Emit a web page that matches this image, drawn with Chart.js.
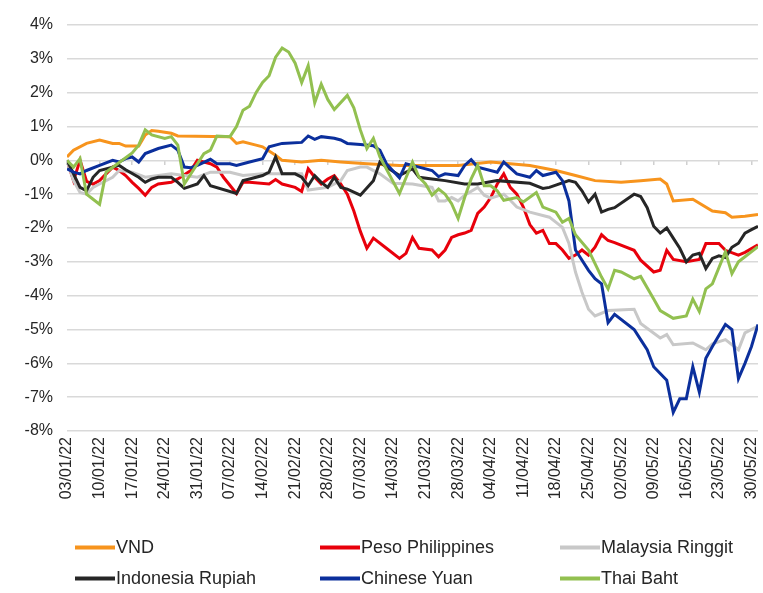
<!DOCTYPE html>
<html>
<head>
<meta charset="utf-8">
<script src="https://cdn.jsdelivr.net/npm/chart.js@4.4.1/dist/chart.umd.min.js"></script>
<style>
  html, body { margin: 0; padding: 0; background: #fff; }
  #wrap { position: relative; width: 763px; height: 593px; overflow: hidden; }
  #chart { position: absolute; left: 0; top: 0; }
  #legend { position: absolute; left: 0; top: 0; width: 763px; height: 593px;
            font-family: Arial, "Liberation Sans", sans-serif; font-size: 18px; color: #262626; }
  .item { position: absolute; display: flex; align-items: center; white-space: nowrap; transform: translateY(-50%); }
  .swatch { display: inline-block; width: 40px; height: 4px; margin-right: 1px; }
</style>
</head>
<body>
<div id="wrap">
  <canvas id="chart" width="763" height="515"></canvas>
  <div id="legend"></div>
</div>
<script>
// Biến động tỷ giá so với đầu năm 2022 (%), x = số ngày làm việc kể từ 03/01/22

const weekLabels = ["03/01/22", "10/01/22", "17/01/22", "24/01/22", "31/01/22", "07/02/22", "14/02/22",
  "21/02/22", "28/02/22", "07/03/22", "14/03/22", "21/03/22", "28/03/22", "04/04/22", "11/04/22",
  "18/04/22", "25/04/22", "02/05/22", "09/05/22", "16/05/22", "23/05/22", "30/05/22"];

const seriesNames = ["VND", "Peso Philippines", "Malaysia Ringgit", "Indonesia Rupiah", "Chinese Yuan", "Thai Baht"];

// [ngày, %]
const vnd = [[0, 0.1], [1, 0.3], [3, 0.5], [5, 0.6], [6, 0.55], [7, 0.5], [8, 0.5], [9, 0.42], [11, 0.42],
  [12, 0.75], [13, 0.88], [14, 0.86], [16, 0.8], [17, 0.72], [25, 0.7], [26, 0.5], [27, 0.55], [29, 0.45],
  [30, 0.4], [32, 0.15], [33, 0.0], [36, -0.05], [39, 0.0], [42, -0.05], [46, -0.1], [51, -0.15],
  [60, -0.15], [65, -0.05], [71, -0.15], [75, -0.3], [78, -0.45], [81, -0.6], [85, -0.65], [88, -0.6],
  [91, -0.55], [92, -0.7], [93, -1.2], [96, -1.15], [99, -1.5], [101, -1.55], [102, -1.68], [104, -1.65],
  [106, -1.6]];

const peso = [[0, 0], [1, -0.6], [2, 0], [3, -0.62], [4, -0.7], [5, -0.6], [6, -0.4], [7, -0.2], [8, -0.3],
  [9, -0.45], [10, -0.65], [11, -0.83], [12, -1.03], [13, -0.8], [14, -0.7], [16, -0.65], [17, -0.55],
  [19, -0.3], [20, 0.0], [22, -0.1], [23, -0.2], [24, -0.5], [26, -0.98], [27, -0.65], [28, -0.65],
  [31, -0.7], [32, -0.57], [33, -0.7], [35, -0.8], [36, -0.92], [37, -0.25], [38, -0.5], [39, -0.7],
  [40, -0.55], [41, -0.45], [42, -0.7], [43, -1.0], [44, -1.5], [45, -2.1], [46, -2.6], [47, -2.3],
  [49, -2.6], [51, -2.9], [52, -2.75], [53, -2.28], [54, -2.6], [56, -2.65], [57, -2.85], [58, -2.65],
  [59, -2.28], [60, -2.2], [61, -2.15], [62, -2.07], [63, -1.57], [64, -1.38], [65, -1.1], [66, -0.7],
  [67, -0.4], [68, -0.8], [69, -1.0], [70, -1.38], [71, -1.9], [72, -2.15], [73, -2.07], [74, -2.46],
  [75, -2.46], [76, -2.65], [77, -2.9], [78, -2.8], [79, -2.65], [80, -2.8], [81, -2.57], [82, -2.2],
  [83, -2.37], [84, -2.43], [87, -2.66], [88, -2.95], [90, -3.3], [91, -3.25], [92, -2.66], [93, -2.93],
  [95, -3.0], [97, -2.93], [98, -2.46], [100, -2.46], [101, -2.66], [103, -2.8], [104, -2.72], [106, -2.5]];

const ringgit = [[0, 0], [1, -0.6], [2, -0.95], [3, -1.0], [4, -0.8], [5, -0.7], [7, -0.5], [8, -0.3],
  [10, -0.35], [12, -0.5], [14, -0.45], [16, -0.4], [20, -0.5], [22, -0.35], [25, -0.35], [27, -0.45],
  [30, -0.4], [36, -0.4], [37, -0.88], [40, -0.8], [42, -0.6], [43, -0.3], [45, -0.2], [46, -0.2],
  [48, -0.4], [50, -0.68], [53, -0.7], [56, -0.8], [57, -1.2], [58, -1.2], [59, -1.1], [60, -1.2],
  [61, -1.03], [63, -0.8], [64, -1.03], [65, -1.12], [67, -1.0], [68, -1.18], [69, -1.38], [71, -1.53],
  [74, -1.68], [76, -1.98], [77, -2.46], [78, -3.3], [79, -3.9], [80, -4.4], [81, -4.6], [83, -4.44],
  [87, -4.4], [88, -4.82], [91, -5.25], [92, -5.15], [93, -5.45], [96, -5.4], [97, -5.5], [98, -5.6],
  [99, -5.42], [101, -5.3], [103, -5.6], [104, -5.1], [106, -4.9]];

const rupiah = [[0, 0], [2, -0.8], [3, -0.9], [4, -0.5], [5, -0.3], [7, -0.2], [8, -0.15], [9, -0.28],
  [11, -0.5], [12, -0.65], [13, -0.55], [14, -0.5], [16, -0.5], [17, -0.65], [18, -0.83], [20, -0.7],
  [21, -0.45], [22, -0.75], [26, -0.98], [27, -0.6], [28, -0.55], [30, -0.45], [31, -0.35], [32, 0.1],
  [33, -0.4], [35, -0.4], [36, -0.5], [37, -0.75], [38, -0.45], [39, -0.65], [40, -0.8], [41, -0.5],
  [42, -0.8], [43, -0.85], [45, -1.03], [47, -0.6], [48, -0.05], [49, -0.2], [51, -0.45], [53, -0.25],
  [54, -0.5], [56, -0.55], [58, -0.6], [61, -0.7], [63, -0.7], [66, -0.6], [71, -0.68], [73, -0.83],
  [74, -0.8], [77, -0.6], [78, -0.65], [79, -0.9], [80, -1.23], [81, -1.0], [82, -1.53], [83, -1.45],
  [84, -1.4], [87, -1.0], [88, -1.07], [89, -1.4], [90, -1.95], [91, -2.15], [92, -2.0], [93, -2.3],
  [94, -2.6], [95, -3.0], [96, -2.8], [97, -2.75], [98, -3.2], [99, -2.9], [100, -2.82], [101, -2.87],
  [102, -2.57], [103, -2.45], [104, -2.15], [105, -2.05], [106, -1.95]];

const yuan = [[0, -0.25], [1, -0.35], [2, -0.4], [3, -0.3], [5, -0.15], [7, 0.0], [8, -0.05], [9, 0.05],
  [10, 0.1], [11, -0.05], [12, 0.2], [14, 0.35], [16, 0.45], [17, 0.3], [18, -0.2], [19, -0.22],
  [20, -0.15], [22, 0.03], [23, -0.1], [25, -0.1], [26, -0.15], [28, -0.05], [30, 0.05], [31, 0.4],
  [33, 0.5], [36, 0.53], [37, 0.72], [38, 0.62], [39, 0.7], [41, 0.65], [42, 0.6], [43, 0.5], [45, 0.47],
  [47, 0.43], [48, 0.3], [49, -0.1], [51, -0.52], [52, -0.1], [54, -0.2], [56, -0.3], [57, -0.48],
  [58, -0.4], [60, -0.45], [61, -0.15], [62, 0.02], [63, -0.2], [66, -0.35], [67, -0.05], [69, -0.4],
  [71, -0.5], [72, -0.3], [73, -0.45], [75, -0.35], [76, -0.6], [77, -1.2], [78, -2.65], [80, -3.25],
  [81, -3.5], [82, -3.65], [83, -4.8], [84, -4.55], [87, -5.0], [88, -5.3], [89, -5.6], [90, -6.1],
  [91, -6.3], [92, -6.5], [93, -7.45], [94, -7.05], [95, -7.05], [96, -6.1], [97, -6.85], [98, -5.85],
  [99, -5.5], [101, -4.85], [102, -5.0], [103, -6.45], [104, -6.0], [105, -5.5], [106, -4.85]];

const baht = [[0, 0], [1, -0.2], [2, 0.05], [3, -1.0], [4, -1.15], [5, -1.3], [6, -0.35], [10, 0.22],
  [11, 0.45], [12, 0.9], [13, 0.75], [15, 0.65], [16, 0.7], [17, 0.45], [18, -0.7], [21, 0.2], [22, 0.3],
  [23, 0.72], [25, 0.7], [26, 1.0], [27, 1.48], [28, 1.6], [29, 2.0], [30, 2.3], [31, 2.5], [32, 3.05],
  [33, 3.32], [34, 3.2], [35, 2.87], [36, 2.3], [37, 2.8], [38, 1.7], [39, 2.25], [40, 1.8], [41, 1.5],
  [43, 1.92], [44, 1.55], [45, 0.9], [46, 0.35], [47, 0.65], [48, 0.1], [51, -0.98], [53, -0.05],
  [54, -0.5], [55, -0.7], [56, -1.03], [57, -0.85], [58, -1.0], [59, -1.28], [60, -1.72], [61, -1.1],
  [62, -0.55], [63, -0.15], [64, -0.75], [65, -0.75], [66, -0.9], [67, -1.18], [69, -1.1], [70, -1.23],
  [72, -0.95], [73, -1.38], [75, -1.53], [76, -1.83], [77, -1.72], [78, -2.2], [80, -2.65], [82, -3.45],
  [83, -3.8], [84, -3.25], [85, -3.3], [87, -3.5], [88, -3.43], [90, -4.1], [91, -4.44], [93, -4.67],
  [95, -4.6], [96, -4.1], [97, -4.47], [98, -3.8], [99, -3.65], [101, -2.7], [102, -3.35], [103, -3.0],
  [104, -2.85], [106, -2.55]];

const series = [vnd, peso, ringgit, rupiah, yuan, baht];
const COLORS = ["#f7941d", "#e8000b", "#c8c8c8", "#262626", "#0b2f9c", "#92c050"];

const TEXT = "#262626";
const FONT_Y = { family: 'Arial, "Liberation Sans", sans-serif', size: 16 };
const FONT_X = { family: 'Arial, "Liberation Sans", sans-serif', size: 16 };
const DAYS_MAX = 106;

// mỗi tuần = 5 ngày làm việc
const weekTicks = () => weekLabels.map((_, i) => ({ value: i * 5 }));

new Chart(document.getElementById("chart"), {
  type: "line",
  data: {
    datasets: series.map((s, i) => ({
      label: seriesNames[i],
      data: s.map(([d, v]) => ({ x: d, y: v })),
      borderColor: COLORS[i],
      backgroundColor: COLORS[i],
      borderWidth: 3,
      pointRadius: 0,
      tension: 0,
      order: series.length - i, // đường sau vẽ đè lên đường trước như Excel
    })),
  },
  options: {
    responsive: false,
    animation: false,
    layout: { padding: { top: 25, right: 5, left: 0, bottom: 0 } },
    plugins: { legend: { display: false }, tooltip: { enabled: false } },
    scales: {
      x: {
        type: "linear",
        min: 0,
        max: DAYS_MAX,
        afterBuildTicks: (scale) => { scale.ticks = weekTicks(); },
        afterFit: (scale) => {
          scale.height = 84;
          // nhãn xoay dọc: không cần chừa lề hai bên
          scale.paddingLeft = 0;
          scale.paddingRight = 0;
        },
        grid: { display: false, drawTicks: false },
        border: { display: false },
        ticks: {
          autoSkip: false,
          minRotation: 90,
          maxRotation: 90,
          padding: 6,
          font: FONT_X,
          color: TEXT,
          callback: (v) => weekLabels[Math.round(v / 5)] ?? "",
        },
      },
      // vạch chia tuần nằm trên đường 0%
      x0: {
        type: "linear",
        axis: "x",
        position: { y: 0 },
        min: 0,
        max: DAYS_MAX,
        afterBuildTicks: (scale) => { scale.ticks = weekTicks(); },
        grid: { drawOnChartArea: false, drawTicks: true, tickLength: 5, color: "#d0d0d0", lineWidth: 1.5 },
        border: { display: false },
        ticks: { display: false },
      },
      y: {
        min: -8,
        max: 4,
        afterFit: (scale) => { scale.width = 67; },
        grid: { color: "#d9d9d9", lineWidth: 1.5, drawTicks: false },
        border: { display: false },
        ticks: {
          stepSize: 1,
          padding: 14,
          font: FONT_Y,
          color: TEXT,
          callback: (v) => v + "%",
        },
      },
    },
  },
});

// chú thích 2 hàng x 3 cột
const legend = document.getElementById("legend");
const colX = [75, 320, 560];
const rowY = [547, 578];
seriesNames.forEach((name, i) => {
  const el = document.createElement("div");
  el.className = "item";
  el.style.left = colX[i % 3] + "px";
  el.style.top = rowY[Math.floor(i / 3)] + "px";
  el.innerHTML = `<span class="swatch" style="background:${COLORS[i]}"></span><span>${name}</span>`;
  legend.appendChild(el);
});
</script>
</body>
</html>
